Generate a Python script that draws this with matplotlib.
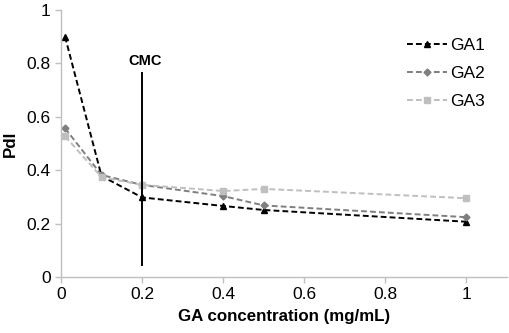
import matplotlib
matplotlib.use("Agg")
import matplotlib.pyplot as plt

plt.rcParams['font.family'] = ['Liberation Sans', 'DejaVu Sans']

conc = [0.01, 0.1, 0.2, 0.4, 0.5, 1.0]
ga1 = [0.90, 0.378, 0.298, 0.266, 0.251, 0.207]
ga2 = [0.557, 0.382, 0.345, 0.303, 0.268, 0.224]
ga3 = [0.527, 0.374, 0.345, 0.322, 0.330, 0.295]
cmc_x = 0.2
cmc_range = [0.045, 0.765]

fig = plt.figure(figsize=(5.1, 3.33), dpi=100)
ax = fig.add_axes([61/510, 1-277/333, 446/510, 267/333])

ax.plot(conc, ga1, linestyle='--', color='black', marker='^', markersize=4.5, lw=1.4, label='GA1', dashes=(3, 1.6))
ax.plot(conc, ga2, linestyle='--', color='#7f7f7f', marker='D', markersize=3.5, lw=1.4, label='GA2', dashes=(3, 1.6))
ax.plot(conc, ga3, linestyle='--', color='#bfbfbf', marker='s', markersize=4, lw=1.4, label='GA3', dashes=(3, 1.6))

ax.plot([cmc_x, cmc_x], cmc_range, color='black', lw=1.4)
ax.text(cmc_x + 0.007, 0.782, 'CMC', ha='center', va='bottom', fontsize=10.5, fontweight='bold')

ax.set_xlim(0, 1.1)
ax.set_ylim(0, 1)
ax.set_xticks([0, 0.2, 0.4, 0.6, 0.8, 1.0])
ax.set_xticklabels(['0', '0.2', '0.4', '0.6', '0.8', '1'])
ax.set_yticks([0, 0.2, 0.4, 0.6, 0.8, 1.0])
ax.set_yticklabels(['0', '0.2', '0.4', '0.6', '0.8', '1'])

for s in ['top', 'right']:
    ax.spines[s].set_visible(False)
for s in ['left', 'bottom']:
    ax.spines[s].set_color('#bfbfbf')
    ax.spines[s].set_linewidth(1.0)
ax.tick_params(axis='both', colors='#bfbfbf', labelcolor='black', labelsize=12.5, length=4, width=1)

ax.set_xlabel('GA concentration (mg/mL)', fontsize=12.2, fontweight='bold', labelpad=5)
ax.set_ylabel('PdI', fontsize=12.2, fontweight='bold', labelpad=6)

leg = ax.legend(loc='upper right', bbox_to_anchor=(0.985, 0.955), frameon=False, fontsize=12.5,
                handlelength=2.3, handletextpad=0.15, labelspacing=0.75)

fig.savefig('out.png', dpi=100)
